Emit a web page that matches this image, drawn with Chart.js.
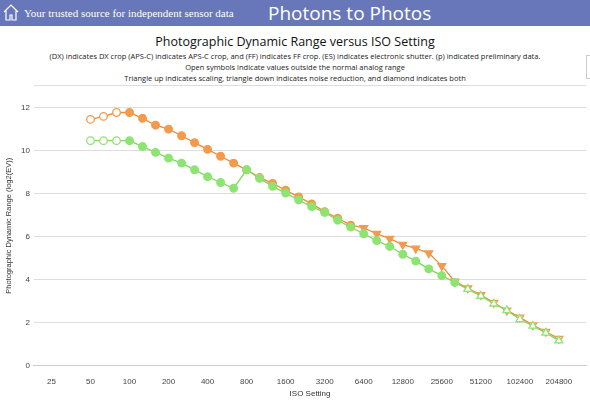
<!DOCTYPE html>
<html><head><meta charset="utf-8">
<script src="https://cdn.jsdelivr.net/npm/chart.js@4"></script>
<style>
body{margin:0;width:590px;height:407px;overflow:hidden;background:#fff;font-family:"Open Sans","DejaVu Sans",sans-serif;position:relative}
#hdr{position:absolute;left:0;top:0;width:590px;height:26px;background:#6877b9}
#tag{position:absolute;left:24px;top:7px;color:#fff;font-family:"Liberation Serif",serif;font-size:11px}
#home{position:absolute;left:3px;top:2px;width:16px;height:20px}
#site{position:absolute;left:268px;top:0px;color:#fff;font-size:19px;font-family:"Open Sans",sans-serif}
#t1{position:absolute;left:0;width:590px;top:33px;text-align:center;font-size:12.5px;color:#111}
.sub{position:absolute;left:0;width:590px;text-align:center;font-size:7.5px;color:#222}
#box{position:absolute;left:586px;top:55px;width:10px;height:22px;border:1px solid #ccc}
#wrap{position:absolute;left:0;top:77px;width:592px;height:330px}
</style></head><body>
<div id="hdr"><svg id="home" viewBox="0 0 16 20"><path d="M1 10 L8 3 L15 10 M3 8 V18 H7 V13 H9 V18 H13 V8" fill="none" stroke="#fff" stroke-width="1.2"/></svg>
<div id="tag">Your trusted source for independent sensor data</div>
<div id="site">Photons to Photos</div></div>
<div id="t1">Photographic Dynamic Range versus ISO Setting</div>
<div class="sub" style="top:51px">(DX) indicates DX crop (APS-C) indicates APS-C crop, and (FF) indicates FF crop. (ES) indicates electronic shutter. (p) indicated preliminary data.</div>
<div class="sub" style="top:62px">Open symbols indicate values outside the normal analog range</div>
<div class="sub" style="top:73px">Triangle up indicates scaling, triangle down indicates noise reduction, and diamond indicates both</div>
<div id="box"></div>
<div id="wrap"><canvas id="c"></canvas></div>
<script>
const isoOrange=[50,64,80,100,125,160,200,250,320,400,500,640,800,1000,1250,1600,2000,2500,3200,4000,5000,6400,8000,10000,12800,16000,20000,25600,32000,40000,51200,64000,80000,102400,128000,160000,204800];
const drOrange=[11.44,11.58,11.76,11.76,11.49,11.17,10.99,10.68,10.36,10.05,9.73,9.41,9.1,8.74,8.47,8.15,7.84,7.52,7.16,6.85,6.53,6.4,6.13,5.9,5.63,5.45,5.23,4.64,3.92,3.6,3.29,2.93,2.57,2.25,1.89,1.58,1.26];
const isoGreen=isoOrange;
const drGreen=[10.45,10.45,10.45,10.45,10.18,9.91,9.64,9.41,9.1,8.78,8.51,8.24,9.1,8.7,8.33,8.02,7.7,7.39,7.12,6.76,6.44,6.13,5.81,5.54,5.18,4.86,4.5,4.19,3.87,3.56,3.24,2.88,2.57,2.16,1.85,1.53,1.17];
const isoTicks=[25,50,100,200,400,800,1600,3200,6400,12800,25600,51200,102400,204800];
const yTicks=[0,2,4,6,8,10,12,13];

const xOf=iso=>Math.round(Math.log2(iso/25)*3)/3;
const OR='#f39a4c', ORL='#f08a34', GR='#8ee472', GRL='#7ddb5c';
function ds(label,iso,dr,col,line,styleFn,openFn){
  return {label,data:iso.map((v,i)=>({x:xOf(v),y:dr[i]})),showLine:true,borderColor:line,borderWidth:1.3,
    pointStyle:iso.map((v,i)=>styleFn(v)),pointRadius:iso.map(v=>styleFn(v)==='circle'?3.8:4.5),
    pointRotation:iso.map(v=>styleFn(v)==='triangle'&&label==='o'?180:0),
    backgroundColor:iso.map((v)=>openFn(v)?'#fff':col),pointBorderColor:col,pointBorderWidth:1.3};
}
new Chart(document.getElementById('c'),{type:'scatter',
 data:{datasets:[
  ds('g',isoGreen,drGreen,GR,GRL,v=>v>=40000?'triangle':'circle',v=>v<100||v>=40000),
  ds('o',isoOrange,drOrange,OR,ORL,v=>v>=6400?'triangle':'circle',v=>v<100||v>=64000)
 ]},
 options:{responsive:true,maintainAspectRatio:false,animation:false,
  layout:{padding:{top:7,right:0,left:0,bottom:4}},
  plugins:{legend:{display:false},tooltip:{enabled:false}},
  scales:{
   x:{type:'linear',min:-0.45,max:13.7,afterBuildTicks:a=>{a.ticks=isoTicks.map(v=>({value:xOf(v)}));},
      ticks:{callback:v=>String(Math.round(25*Math.pow(2,v))),font:{size:8},color:'#444',maxRotation:0,autoSkip:false},
      grid:{display:false},border:{color:'#ccc'},
      title:{display:true,text:'ISO Setting',font:{size:8},color:'#333',padding:{top:0}}},
   y:{min:0,max:13,afterBuildTicks:a=>{a.ticks=yTicks.map(v=>({value:v}));},
      ticks:{font:{size:8},color:'#444',padding:4,callback:v=>v===13?'':String(v)},
      grid:{color:'#ddd',drawTicks:false},border:{display:false},
      title:{display:true,text:'Photographic Dynamic Range (log2(EV))',font:{size:7.5},color:'#333'}}
  }}});
</script></body></html>
